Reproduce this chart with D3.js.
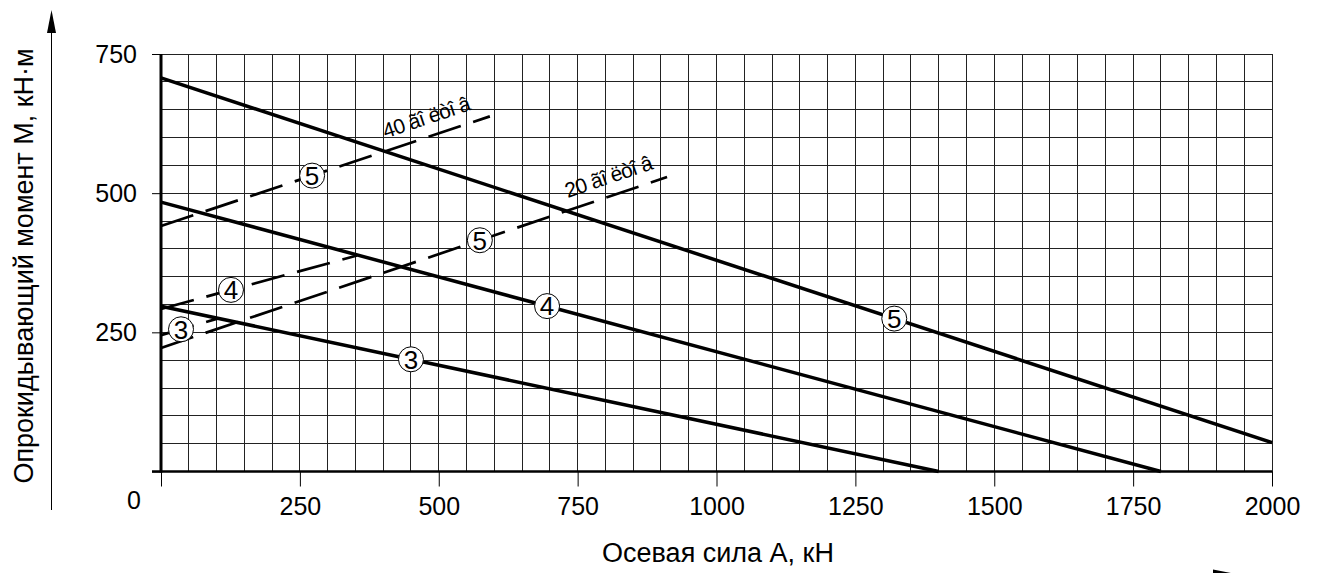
<!DOCTYPE html>
<html>
<head>
<meta charset="utf-8">
<script src="https://cdn.jsdelivr.net/npm/d3@7"></script>
<style>
  body { margin: 0; background: #fff; }
  text { font-family: "Liberation Sans", Arial, sans-serif; fill: #000; }
</style>
</head>
<body>
<svg id="chart" width="1317" height="573"></svg>
<script>
// axis ticks
const xTicks = [250, 500, 750, 1000, 1250, 1500, 1750, 2000];
const yTicks = [250, 500, 750];

// solid lines: [A, M] end points
const solid3 = [[0, 297], [1400, 0]];
const solid4 = [[0, 484], [1800, 0]];
const solid5 = [[0, 707], [2000, 52]];

// dashed lines
const dash3 = [[0, 245], [103, 275]];
const dash4 = [[0, 292], [353, 388]];
const dash5_20 = [[0, 222], [911, 529]];
const dash5_40 = [[0, 441], [592, 638]];

// circle markers: line, A position, number
const markers = [
  {line: solid3, a: 450, n: '3'},
  {line: solid4, a: 695, n: '4'},
  {line: solid5, a: 1320, n: '5'},
  {line: dash3, a: 36, n: '3'},
  {line: dash4, a: 126, n: '4'},
  {line: dash5_20, a: 574, n: '5'},
  {line: dash5_40, a: 272, n: '5'}
];

// labels on dashed lines
const lineLabels = [
  {line: dash5_40, a: 418, text: '40 ãî ëòî â'},
  {line: dash5_20, a: 746, text: '20 ãî ëòî â'}
];

const svg = d3.select('#chart');
const x = d3.scaleLinear().domain([0, 2000]).range([161, 1272]);
const y = d3.scaleLinear().domain([0, 750]).range([471.5, 54]);

const valueAt = (line, a) => {
  const [[a0, m0], [a1, m1]] = line;
  return m0 + (m1 - m0) * (a - a0) / (a1 - a0);
};

// grid
const grid = svg.append('g').attr('stroke', '#222').attr('stroke-width', 1)
  .attr('shape-rendering', 'crispEdges');
grid.selectAll('.gx').data(d3.range(50, 2001, 50)).join('line')
  .attr('x1', d => x(d)).attr('x2', d => x(d))
  .attr('y1', y(0)).attr('y2', y(750));
grid.selectAll('.gy').data(d3.range(50, 751, 50)).join('line')
  .attr('x1', x(0)).attr('x2', x(2000))
  .attr('y1', d => y(d)).attr('y2', d => y(d));

// x axis
const xAxis = svg.append('g')
  .attr('transform', `translate(0,${y(0)})`)
  .call(d3.axisBottom(x).tickValues([0].concat(xTicks)).tickSize(15).tickPadding(11)
    .tickFormat(d => d === 0 ? '' : d));
xAxis.select('.domain').remove();
xAxis.selectAll('line').attr('stroke', '#000');
xAxis.selectAll('text').attr('font-size', 25);

// y axis
const yAxis = svg.append('g')
  .attr('transform', `translate(${x(0)},0)`)
  .call(d3.axisLeft(y).tickValues([0].concat(yTicks)).tickSize(9).tickPadding(15));
yAxis.select('.domain').remove();
yAxis.selectAll('line').attr('stroke', '#000');
yAxis.selectAll('text').attr('font-size', 25).text(d => d === 0 ? '' : d);

// origin label
svg.append('text').attr('x', 134).attr('y', 509).attr('text-anchor', 'middle')
  .attr('font-size', 25).text('0');

// frame: thick left and bottom
svg.append('line').attr('x1', x(0)).attr('x2', x(0)).attr('y1', y(0) + 1).attr('y2', y(750))
  .attr('stroke', '#000').attr('stroke-width', 3);
svg.append('line').attr('x1', x(0) - 9).attr('x2', x(2000)).attr('y1', y(0)).attr('y2', y(0))
  .attr('stroke', '#000').attr('stroke-width', 2.5);

const path = d3.line().x(d => x(d[0])).y(d => y(d[1]));

// dashed lines
[dash3, dash4, dash5_20, dash5_40].forEach(l => {
  svg.append('path').attr('d', path(l)).attr('fill', 'none')
    .attr('stroke', '#000').attr('stroke-width', 2.7)
    .attr('stroke-dasharray', '34,13');
});

// solid lines
[solid3, solid4, solid5].forEach(l => {
  svg.append('path').attr('d', path(l)).attr('fill', 'none')
    .attr('stroke', '#000').attr('stroke-width', 3.5);
});

// labels along dashed lines
lineLabels.forEach(lb => {
  const px = x(lb.a), py = y(valueAt(lb.line, lb.a));
  const [[a0, m0], [a1, m1]] = lb.line;
  const ang = Math.atan2(y(m1) - y(m0), x(a1) - x(a0)) * 180 / Math.PI;
  svg.append('text')
    .attr('transform', `translate(${px},${py}) rotate(${ang}) translate(-4,-12)`)
    .attr('font-size', 21).attr('letter-spacing', -0.8).text(lb.text);
});

// circle markers
const mk = svg.selectAll('.mk').data(markers).join('g')
  .attr('transform', d => `translate(${x(d.a)},${y(valueAt(d.line, d.a))})`);
mk.append('circle').attr('r', 12.5).attr('fill', '#fff').attr('stroke', '#000').attr('stroke-width', 1);
mk.append('text').attr('text-anchor', 'middle').attr('dy', '0.36em')
  .attr('font-size', 26).text(d => d.n);

// outer arrows
svg.append('line').attr('x1', 51.5).attr('x2', 51.5).attr('y1', 510).attr('y2', 30)
  .attr('stroke', '#000').attr('stroke-width', 1);
svg.append('path').attr('d', 'M51.5,10 L47,33 L56,33 Z').attr('fill', '#000');
svg.append('line').attr('x1', 1100).attr('x2', 1220).attr('y1', 574).attr('y2', 574)
  .attr('stroke', '#000').attr('stroke-width', 1);
svg.append('path').attr('d', 'M1236,574 L1213,569.5 L1213,578.5 Z').attr('fill', '#000');

// axis titles
svg.append('text').attr('x', 718).attr('y', 562).attr('text-anchor', 'middle')
  .attr('font-size', 27).text('Осевая сила А, кН');
svg.append('text').attr('transform', 'translate(33,266) rotate(-90)')
  .attr('text-anchor', 'middle').attr('font-size', 27)
  .text('Опрокидывающий момент M, кН·м');
</script>
</body>
</html>
